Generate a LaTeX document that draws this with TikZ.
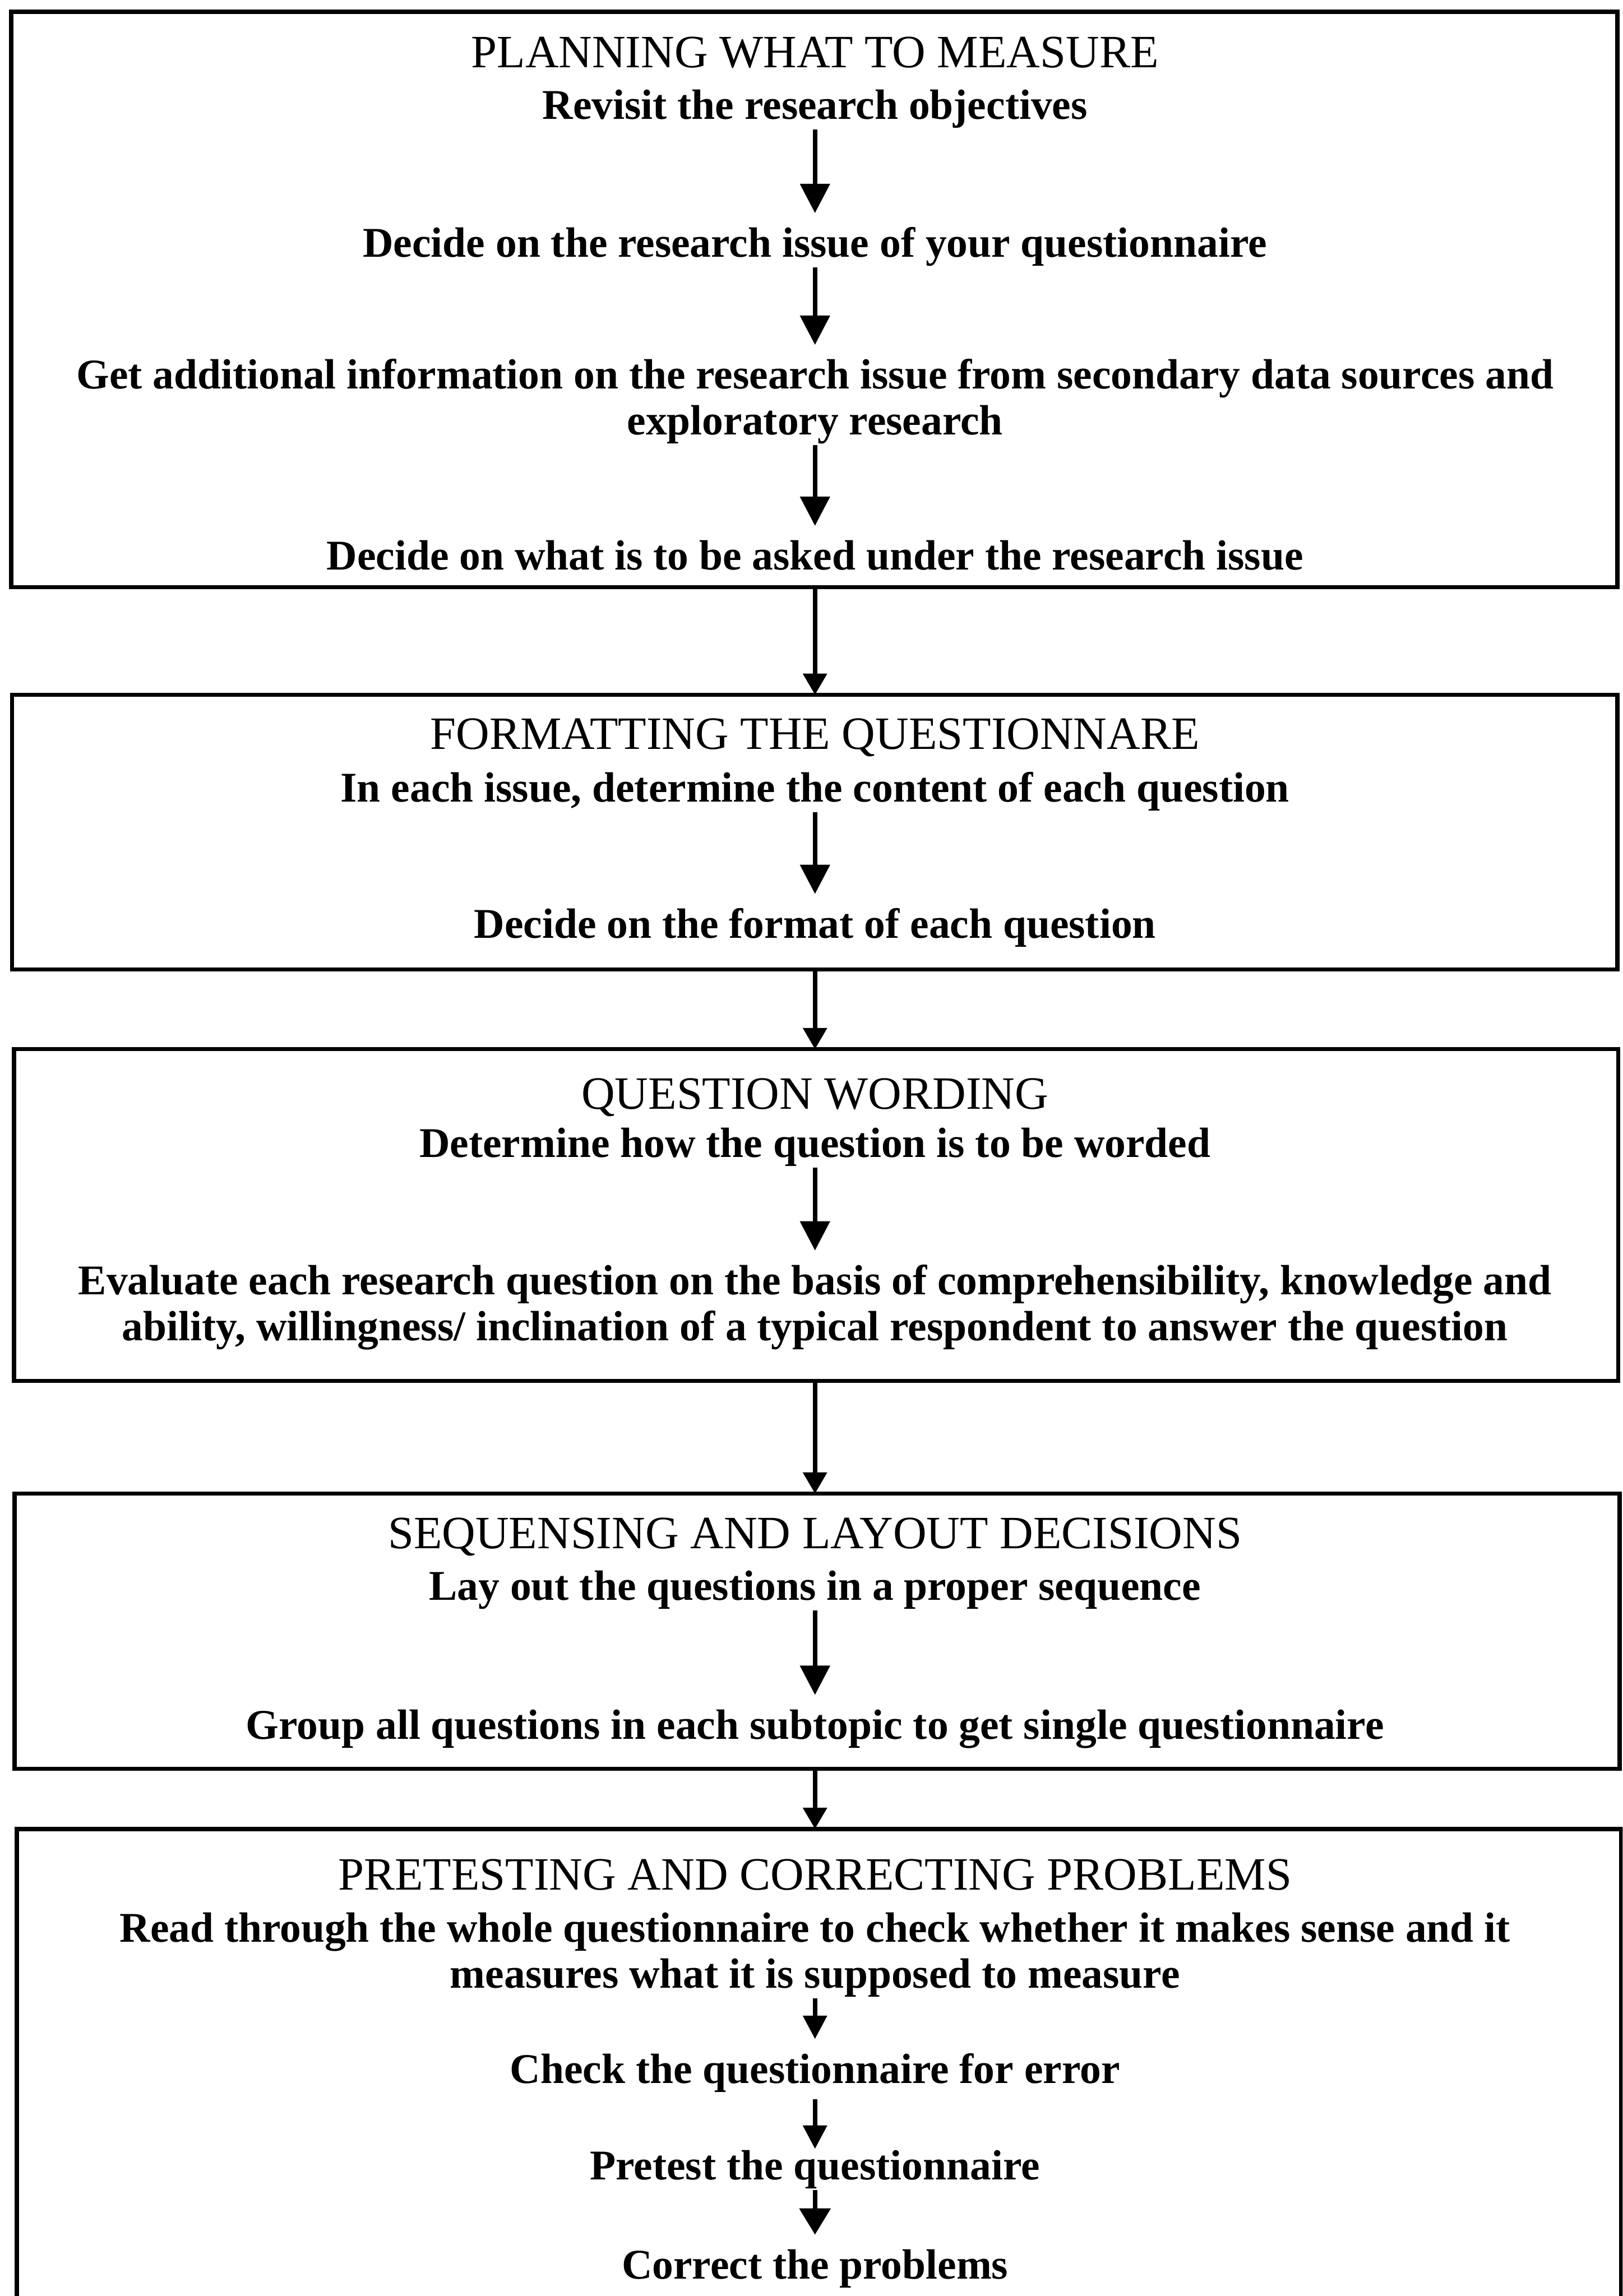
\documentclass[tikz,border=0pt]{standalone}
\usepackage{fontspec}
\setmainfont{Liberation Serif}
\usetikzlibrary{arrows.meta,fit}
% struts fixing the top and bottom of every step text
\newcommand\topstrut{\rule{0pt}{1.03em}}
\newcommand\botstrut{\rule[-0.23em]{0pt}{0.23em}}
\begin{document}
\begin{tikzpicture}[x=0.02cm,y=-0.02cm,
  lw/.style={line width=0.058cm},
  stage/.style={draw, lw, inner sep=0pt, outer sep=0pt},
  head/.style={anchor=base, inner sep=0pt, font=\fontsize{18}{21}\selectfont},
  body/.style={anchor=north, inner sep=0pt, align=center,
    font=\bfseries\fontsize{16.45}{17.8}\selectfont},
  flow/.style={lw, -{Triangle[length=0.4cm,width=0.4cm]}},
  link/.style={lw, -{Triangle[length=0.29cm,width=0.32cm]}},
  small/.style={lw, -{Triangle[length=0.32cm,width=0.32cm]}},
  mid/.style={lw, -{Triangle[length=0.36cm,width=0.42cm]}},
]
\useasboundingbox (0,0) rectangle (1108,1568);
\clip (0,0) rectangle (1108,1568);

% stage frames
\node[stage, fit={(7.6,8) (1104.5,401)}] (s1) {};
\node[stage, fit={(8.3,474.5) (1104.5,662)}] (s2) {};
\node[stage, fit={(9.5,716.5) (1105,943)}] (s3) {};
\node[stage, fit={(10,1020) (1106,1208)}] (s4) {};
\node[stage, fit={(11.5,1249) (1107,1640)}] (s5) {};

% stage 1
\node[head] (h1) at (556.5,46.3) {PLANNING WHAT TO MEASURE};
\node[body] (a1) at (556.5,51.2) {\topstrut Revisit the research objectives\botstrut};
\node[body] (a2) at (556.5,145.5) {\topstrut Decide on the research issue of your questionnaire\botstrut};
\node[body] (a3) at (556.5,235.5) {\topstrut Get additional information on the research issue from secondary data sources and\\exploratory research\botstrut};
\node[body] (a4) at (556.5,359.1) {\topstrut Decide on what is to be asked under the research issue\botstrut};

% stage 2
\node[head] (h2) at (556.5,511.5) {FORMATTING THE QUESTIONNARE};
\node[body] (b1) at (556.5,517.5) {\topstrut In each issue, determine the content of each question\botstrut};
\node[body] (b2) at (556.5,610.5) {\topstrut Decide on the format of each question\botstrut};

% stage 3
\node[head] (h3) at (556.5,757.5) {QUESTION WORDING};
\node[body] (c1) at (556.5,760.1) {\topstrut Determine how the question is to be worded\botstrut};
\node[body] (c2) at (556.5,854) {\topstrut Evaluate each research question on the basis of comprehensibility, knowledge and\\ability, willingness/ inclination of a typical respondent to answer the question\botstrut};

% stage 4
\node[head] (h4) at (556.5,1057.5) {SEQUENSING AND LAYOUT DECISIONS};
\node[body] (d1) at (556.5,1062.5) {\topstrut Lay out the questions in a proper sequence\botstrut};
\node[body] (d2) at (556.5,1157.5) {\topstrut Group all questions in each subtopic to get single questionnaire\botstrut};

% stage 5
\node[head] (h5) at (556.5,1290.5) {PRETESTING AND CORRECTING PROBLEMS};
\node[body] (e1) at (556.5,1296.3) {\topstrut Read through the whole questionnaire to check whether it makes sense and it\\measures what it is supposed to measure\botstrut};
\node[body] (e2) at (556.5,1392.5) {\topstrut Check the questionnaire for error\botstrut};
\node[body] (e3) at (556.5,1458.5) {\topstrut Pretest the questionnaire\botstrut};
\node[body] (e4) at (556.5,1526.1) {\topstrut Correct the problems\botstrut};

% steps inside the stages
\draw[flow] (a1.south) -- (a2.north);
\draw[flow] (a2.south) -- (a3.north);
\draw[flow] (a3.south) -- (a4.north);
\draw[flow] (b1.south) -- (b2.north);
\draw[flow] (c1.south) -- (c2.north);
\draw[flow] (d1.south) -- (d2.north);
\draw[small] (e1.south) -- (e2.north);
\draw[small, shorten <=0.08cm, shorten >=-0.18cm] (e2.south) -- (e3.north);
\draw[mid] (e3.south) -- (e4.north);

% links between the stages, kept on the common vertical axis
\draw[link] (a4 |- s1.south) -- (b1 |- s2.north);
\draw[link] (b2 |- s2.south) -- (c1 |- s3.north);
\draw[link] (c2 |- s3.south) -- (d1 |- s4.north);
\draw[link] (d2 |- s4.south) -- (e1 |- s5.north);
\end{tikzpicture}
\end{document}
